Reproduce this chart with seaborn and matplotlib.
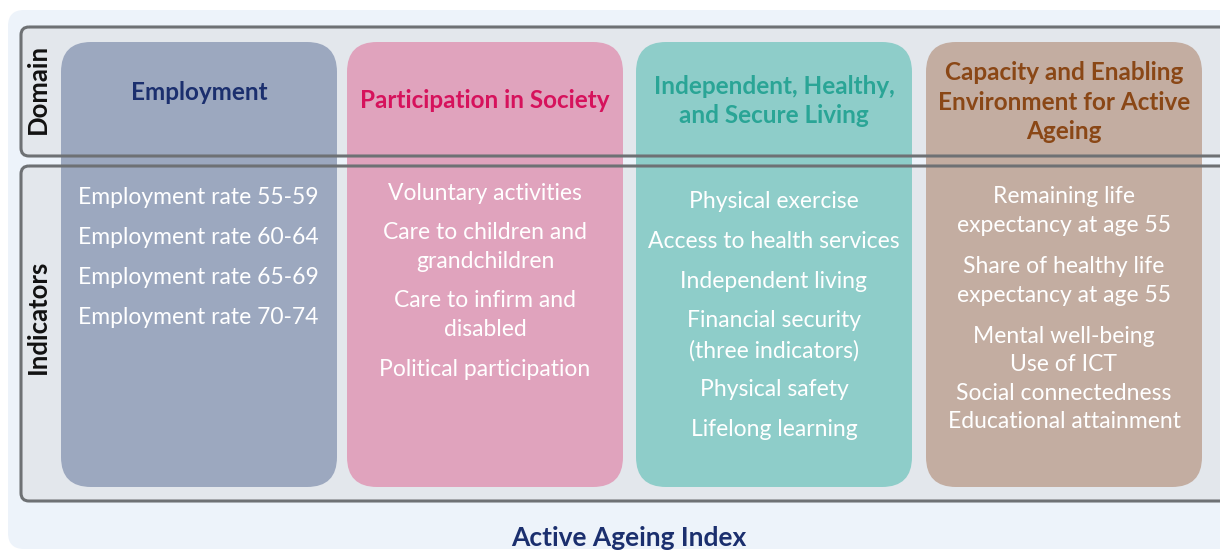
"""
Active Ageing Index - domains and indicators diagram
"""
import numpy as np
import pandas as pd
import matplotlib.pyplot as plt
import seaborn as sns
from matplotlib.patches import FancyBboxPatch

# Data
domains = [
    "Employment",
    "Participation in Society",
    "Independent, Healthy,\nand Secure Living",
    "Capacity and Enabling\nEnvironment for Active\nAgeing",
]
employment_ind = ["Employment rate 55-59", "Employment rate 60-64",
                  "Employment rate 65-69", "Employment rate 70-74"]
participation_ind = ["Voluntary activities", "Care to children and\ngrandchildren",
                     "Care to infirm and\ndisabled", "Political participation"]
living_ind = ["Physical exercise", "Access to health services", "Independent living",
              "Financial security\n(three indicators)", "Physical safety",
              "Lifelong learning"]
capacity_ind = ["Remaining life\nexpectancy at age 55", "Share of healthy life\nexpectancy at age 55",
                "Mental well-being\nUse of ICT\nSocial connectedness\nEducational attainment"]
row_labels = ["Domain", "Indicators"]
index_title = "Active Ageing Index"

col_fill = ["#9ca8bf", "#e0a3bd", "#8ecdc9", "#c3ada1"]
title_color = ["#1b2f6e", "#d6125c", "#2aa596", "#8a4716"]

sns.set_theme(style="white")
plt.rcParams['font.family'] = ['Lato', 'DejaVu Sans']

fig = plt.figure(figsize=(12.2, 5.51), dpi=100)
ax = fig.add_axes([0, 0, 1, 1])
ax.set_xlim(0, 1220)
ax.set_ylim(551, 0)
ax.axis('off')


def rbox(x0, y0, x1, y1, r, **kw):
    p = FancyBboxPatch((x0 + r, y0 + r), x1 - x0 - 2 * r, y1 - y0 - 2 * r,
                       boxstyle=f"round,pad={r}", **kw)
    ax.add_patch(p)
    return p


# outer background
rbox(8, 10, 1250, 549, 16, facecolor="#edf3fa", edgecolor="none", zorder=0)

# row bands (fill)
bands = [(21, 27, 1240, 156), (21, 166, 1240, 501)]
for b in bands:
    rbox(*b, 8, facecolor="#e3e7ec", edgecolor="none", zorder=1)

# domain columns
col_x = [61, 347, 636, 926]
col_w = 276
for i, x0 in enumerate(col_x):
    rbox(x0, 42, x0 + col_w, 487, 30, facecolor=col_fill[i], edgecolor="none", zorder=2)

# band outlines on top
for b in bands:
    rbox(*b, 8, facecolor="none", edgecolor="#6e7174", linewidth=2.2, zorder=3)

# row labels
ax.text(38, 89, row_labels[0], rotation=90, ha='center', va='center',
        fontsize=18.5, fontweight='bold', color="#111111", zorder=4)
ax.text(38, 317, row_labels[1], rotation=90, ha='center', va='center',
        fontsize=18.5, fontweight='bold', color="#111111", zorder=4)

# domain titles
title_y = [92, 100, 101, 102]
for i, x0 in enumerate(col_x):
    ax.text(x0 + col_w / 2, title_y[i], domains[i], ha='center', va='center',
            fontsize=17.5, fontweight='bold', color=title_color[i],
            linespacing=1.33, zorder=4)

# indicators
txt_kw = dict(fontsize=16.5, color="white", zorder=4, linespacing=1.5)
for k, s in enumerate(employment_ind):
    ax.text(78, 197 + 40 * k, s, ha='left', va='center', **txt_kw)

part_y = [193, 247, 315, 370]
for s, y in zip(participation_ind, part_y):
    ax.text(485, y, s, ha='center', va='center', **txt_kw)

living_y = [202, 241, 281, 336, 390, 430]
for s, y in zip(living_ind, living_y):
    ax.text(774, y, s, ha='center', va='center', **txt_kw)

cap_y = [211, 281, 379]
cap_ls = [1.5, 1.5, 1.43]
for s, y, ls in zip(capacity_ind, cap_y, cap_ls):
    ax.text(1064, y, s, ha='center', va='center',
            **{**txt_kw, 'linespacing': ls})

# bottom title
ax.text(629, 538, index_title, ha='center', va='center', fontsize=19,
        fontweight='bold', color="#1b2f6e", zorder=4)

plt.savefig("out.png", dpi=100)
